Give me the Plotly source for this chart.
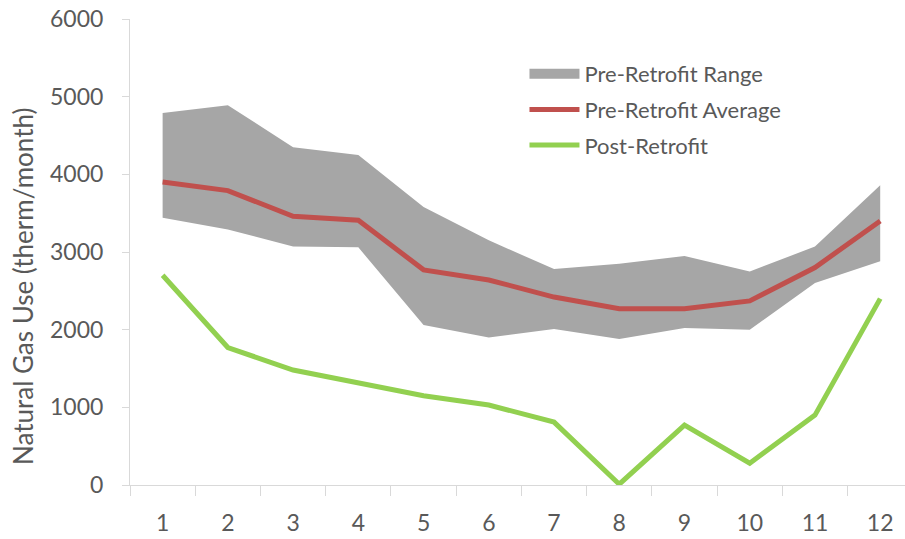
import plotly.graph_objects as go

months = ["1", "2", "3", "4", "5", "6", "7", "8", "9", "10", "11", "12"]
range_low = [3440, 3290, 3070, 3060, 2060, 1900, 2010, 1880, 2020, 2000, 2600, 2880]
range_high = [4790, 4890, 4350, 4250, 3580, 3150, 2780, 2850, 2950, 2750, 3070, 3860]
pre_avg = [3900, 3790, 3460, 3410, 2770, 2640, 2420, 2270, 2270, 2370, 2800, 3400]
post = [2700, 1770, 1480, 1310, 1150, 1030, 810, 10, 770, 280, 900, 2400]
y_ticks = [0, 1000, 2000, 3000, 4000, 5000, 6000]

FONT = "Lato"
TXT = "#595959"
AX = "#d9d9d9"
GRAY = "#a6a6a6"

fig = go.Figure()
fig.add_trace(go.Scatter(x=months, y=range_low, mode="lines", line=dict(width=0, color=GRAY),
                         showlegend=False, hoverinfo="skip"))
fig.add_trace(go.Scatter(x=months, y=range_high, mode="lines", line=dict(width=0, color=GRAY),
                         fill="tonexty", fillcolor=GRAY, showlegend=False))
# legend swatch for the range band
fig.add_trace(go.Scatter(x=[None], y=[None], mode="lines", line=dict(width=14, color=GRAY),
                         name="Pre-Retrofit Range", legendgroup="a"))
fig.add_trace(go.Scatter(x=months, y=pre_avg, mode="lines", line=dict(width=5, color="#c0504d"),
                         name="Pre-Retrofit Average", legendgroup="b"))
fig.add_trace(go.Scatter(x=months, y=post, mode="lines", line=dict(width=5, color="#92d050"),
                         name="Post-Retrofit", legendgroup="c"))

fig.update_layout(
    width=905, height=539,
    margin=dict(l=130, r=0, t=19, b=54),
    paper_bgcolor="white", plot_bgcolor="white",
    font=dict(family=FONT, color=TXT),
    legend=dict(x=0.509, y=0.927, xanchor="left", yanchor="top", font=dict(size=22, color=TXT),
                tracegroupgap=4, itemwidth=50, bgcolor="rgba(0,0,0,0)"),
    xaxis=dict(type="category", range=[-0.5, 11.38], showgrid=False, showline=True, linecolor=AX,
               linewidth=1, ticks="outside", tickson="boundaries", ticklen=10, tickcolor=AX,
               tickfont=dict(size=23, color=TXT), ticklabelstandoff=17, automargin=False),
    yaxis=dict(range=[0, 6000], tickvals=y_ticks, showgrid=False, showline=True, linecolor=AX,
               linewidth=1, ticks="outside", ticklen=7, tickcolor=AX, zeroline=False,
               tickfont=dict(size=23, color=TXT), ticklabelstandoff=14, automargin=False,
               ticklabeloverflow="allow"),
    annotations=[dict(text="Natural Gas Use (therm/month)", xref="paper", yref="paper",
                      x=-0.138, y=0.427, textangle=-90, showarrow=False,
                      font=dict(size=26, color=TXT), xanchor="center", yanchor="middle")],
)

fig.write_html("out.html", config={"displayModeBar": False},
               post_script="document.body.style.margin='0';")
